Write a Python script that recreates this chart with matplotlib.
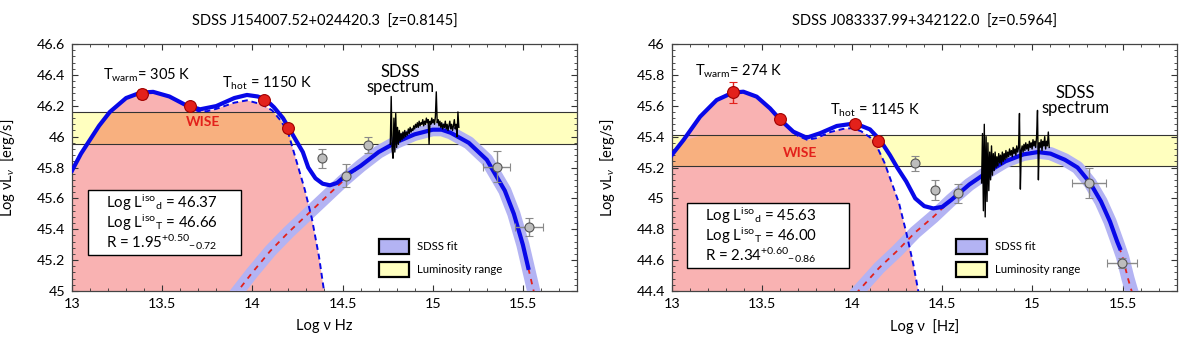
import numpy as np
import matplotlib
matplotlib.use("Agg")
import matplotlib.pyplot as plt
from matplotlib.patches import Rectangle
from matplotlib.ticker import MultipleLocator, FuncFormatter

plt.rcParams['font.family'] = ['Lato', 'DejaVu Sans']
plt.rcParams['mathtext.fontset'] = 'custom'
plt.rcParams['mathtext.rm'] = 'Lato'
plt.rcParams['mathtext.it'] = 'Lato:italic'
plt.rcParams['mathtext.bf'] = 'Lato:bold'

# ---------------- left panel: SDSS J154007.52+024420.3 ----------------
l_title = "SDSS J154007.52+024420.3  [z=0.8145]"
l_xlabel = "Log ν Hz"
l_ylim = (45.0, 46.6)
l_band = (45.955, 46.16)

l_dust_x = [13.00, 13.05, 13.10, 13.15, 13.21, 13.30, 13.38, 13.45, 13.54, 13.63, 13.70,
            13.75, 13.80, 13.90, 13.97, 14.05, 14.11, 14.16, 14.20, 14.25, 14.29, 14.33,
            14.37, 14.40]
l_dust_y = [45.78, 45.89, 45.98, 46.07, 46.16, 46.25, 46.285, 46.29, 46.26, 46.20, 46.165,
            46.165, 46.18, 46.22, 46.235, 46.21, 46.17, 46.10, 46.02, 45.82, 45.66, 45.47,
            45.22, 44.98]

l_tot_x = [13.00, 13.05, 13.10, 13.15, 13.21, 13.30, 13.38, 13.45, 13.54, 13.63, 13.71,
           13.80, 13.90, 13.97, 14.03, 14.075, 14.12, 14.17, 14.24, 14.28, 14.31, 14.35,
           14.39, 14.43, 14.47, 14.52, 14.60, 14.70, 14.80, 14.90, 15.00, 15.05, 15.10,
           15.20, 15.30, 15.40, 15.45, 15.50, 15.53]
l_tot_y = [45.78, 45.89, 45.98, 46.07, 46.16, 46.25, 46.285, 46.29, 46.26, 46.205, 46.177,
           46.198, 46.25, 46.27, 46.26, 46.24, 46.19, 46.12, 45.98, 45.90, 45.80, 45.73,
           45.695, 45.685, 45.70, 45.75, 45.81, 45.90, 45.965, 46.015, 46.045, 46.045, 46.025,
           45.96, 45.85, 45.65, 45.50, 45.30, 45.15]

l_disk_x = [13.90, 14.00, 14.10, 14.20, 14.30, 14.40, 14.50, 14.60, 14.70, 14.80, 14.90,
            15.00, 15.05, 15.10, 15.20, 15.30, 15.40, 15.45, 15.50, 15.55, 15.58]
l_disk_y = [44.97, 45.12, 45.26, 45.38, 45.49, 45.60, 45.71, 45.81, 45.90, 45.965, 46.015,
            46.045, 46.045, 46.025, 45.96, 45.85, 45.65, 45.50, 45.30, 45.05, 44.90]

l_wise_x = [13.39, 13.652, 14.066, 14.197]
l_wise_y = [46.276, 46.198, 46.235, 46.054]
l_wise_err = [0.03, 0.0, 0.0, 0.0]

l_phot_x = [14.389, 14.518, 14.643, 15.355, 15.534]
l_phot_y = [45.86, 45.747, 45.946, 45.805, 45.415]
l_phot_xerr = [0.0, 0.0, 0.0, 0.075, 0.078]
l_phot_yerr = [0.06, 0.075, 0.05, 0.10, 0.06]

l_spec_x0, l_spec_dx = 14.765, 0.005
l_spec_y = [45.95, 46.26, 45.92, 45.86, 46.12, 45.90, 46.15, 45.93, 46.06, 45.95,
            46.04, 45.97, 46.02, 45.98, 46.03, 45.99, 46.04, 46.00, 46.03, 46.01,
            46.05, 46.02, 46.06, 46.03, 46.05, 46.04, 46.07, 46.05, 46.08, 46.06,
            46.09, 46.06, 46.10, 46.07, 46.09, 46.08, 46.11, 46.07, 46.10, 46.08,
            46.12, 46.09, 46.11, 45.95, 46.10, 46.08, 46.12, 46.09, 46.11, 46.08,
            46.13, 46.29, 46.09, 46.11, 46.07, 46.10, 46.06, 46.09, 46.05, 46.08,
            46.06, 46.10, 46.05, 46.08, 46.04, 46.07, 46.10, 46.05, 46.08, 46.04,
            46.07, 46.11, 46.05, 46.08, 46.00, 46.16, 46.06]

l_box_lines = [r"Log L$^{\mathrm{iso}}$$_{\mathrm{d}}$ = 46.37",
               r"Log L$^{\mathrm{iso}}$$_{\mathrm{T}}$ = 46.66",
               r"R = 1.95$^{+0.50}$$_{-0.72}$"]
l_twarm = r"T$_{\mathrm{warm}}$= 305 K"
l_thot = r"T$_{\mathrm{hot}}$ = 1150 K"

# ---------------- right panel: SDSS J083337.99+342122.0 ----------------
r_title = "SDSS J083337.99+342122.0  [z=0.5964]"
r_xlabel = "Log ν  [Hz]"
r_ylim = (44.4, 46.0)
r_band = (45.21, 45.41)

r_dust_x = [13.00, 13.065, 13.157, 13.249, 13.338, 13.397, 13.471, 13.545, 13.60, 13.67,
            13.70, 13.75, 13.80, 13.88, 13.95, 14.00, 14.05, 14.10, 14.14, 14.18, 14.22,
            14.26, 14.30, 14.34, 14.37]
r_dust_y = [45.281, 45.378, 45.529, 45.637, 45.685, 45.691, 45.659, 45.583, 45.512, 45.43,
            45.405, 45.38, 45.39, 45.43, 45.45, 45.455, 45.435, 45.395, 45.33, 45.23, 45.10,
            44.97, 44.78, 44.57, 44.38]

r_tot_x = [13.00, 13.065, 13.157, 13.249, 13.338, 13.397, 13.471, 13.545, 13.60, 13.674,
           13.748, 13.822, 13.915, 14.016, 14.099, 14.155, 14.21, 14.25, 14.30, 14.35,
           14.40, 14.45, 14.50, 14.55, 14.59, 14.65, 14.75, 14.85, 14.95, 15.03, 15.10,
           15.18, 15.25, 15.32, 15.38, 15.43, 15.47, 15.485]
r_tot_y = [45.281, 45.378, 45.529, 45.637, 45.685, 45.691, 45.659, 45.583, 45.512, 45.432,
           45.393, 45.422, 45.469, 45.486, 45.447, 45.378, 45.28, 45.20, 45.11, 45.00,
           44.95, 44.935, 44.945, 44.99, 45.03, 45.09, 45.17, 45.24, 45.285, 45.30, 45.29,
           45.25, 45.20, 45.10, 44.98, 44.85, 44.72, 44.677]

r_disk_x = [13.98, 14.05, 14.15, 14.25, 14.35, 14.45, 14.55, 14.65, 14.75, 14.85, 14.95,
            15.03, 15.10, 15.18, 15.25, 15.32, 15.38, 15.43, 15.47, 15.50, 15.53, 15.56]
r_disk_y = [44.33, 44.42, 44.55, 44.66, 44.78, 44.88, 44.99, 45.09, 45.17, 45.24, 45.285,
            45.30, 45.29, 45.25, 45.20, 45.10, 44.98, 44.85, 44.72, 44.62, 44.48, 44.36]

r_wise_x = [13.338, 13.600, 14.018, 14.145]
r_wise_y = [45.687, 45.512, 45.482, 45.372]
r_wise_err = [0.067, 0.0, 0.0, 0.0]

r_phot_x = [14.349, 14.46, 14.589, 15.315, 15.497]
r_phot_y = [45.227, 45.054, 45.033, 45.098, 44.582]
r_phot_xerr = [0.0, 0.0, 0.0, 0.094, 0.083]
r_phot_yerr = [0.05, 0.065, 0.06, 0.097, 0.03]

r_spec_x0, r_spec_dx = 14.718, 0.005
r_spec_y = [45.10, 45.42, 44.92, 45.48, 44.88, 45.40, 44.98, 45.36, 45.05, 45.30,
            45.12, 45.34, 45.15, 45.29, 45.18, 45.30, 45.20, 45.27, 45.21, 45.29,
            45.23, 45.28, 45.22, 45.30, 45.24, 45.29, 45.25, 45.31, 45.26, 45.30,
            45.27, 45.32, 45.28, 45.31, 45.27, 45.33, 45.29, 45.32, 45.28, 45.34,
            45.30, 45.33, 45.55, 45.06, 45.31, 45.34, 45.30, 45.35, 45.31, 45.36,
            45.32, 45.35, 45.31, 45.37, 45.33, 45.36, 45.32, 45.38, 45.34, 45.37,
            45.33, 45.40, 45.57, 45.12, 45.36, 45.33, 45.38, 45.31, 45.37, 45.34,
            45.40, 45.32, 45.37, 45.34, 45.43, 45.33]

r_box_lines = [r"Log L$^{\mathrm{iso}}$$_{\mathrm{d}}$ = 45.63",
               r"Log L$^{\mathrm{iso}}$$_{\mathrm{T}}$ = 46.00",
               r"R = 2.34$^{+0.60}$$_{-0.86}$"]
r_twarm = r"T$_{\mathrm{warm}}$= 274 K"
r_thot = r"T$_{\mathrm{hot}}$ = 1145 K"

BLUE = '#0808e8'
LAV = '#b3b3f3'
PINK = '#f9b2b2'
ORANGE = '#f8b07f'
YELLOW = '#ffffbf'
RED = '#e3211b'


def panel(ax, title, xlabel, ylim, band, dust_x, dust_y, tot_x, tot_y, disk_x, disk_y,
          wise_x, wise_y, wise_err, phot_x, phot_y, phot_xerr, phot_yerr,
          spec_x0, spec_dx, spec_y, box_lines, twarm, thot, pos):
    dust_x = np.array(dust_x)
    dust_y = np.array(dust_y)
    lo, hi = band

    # luminosity range and dust emission
    ax.axhspan(lo, hi, color=YELLOW, zorder=0, lw=0)
    ax.fill_between(dust_x, dust_y, ylim[0] - 1, color=PINK, lw=0, zorder=1)
    ax.fill_between(dust_x, lo, np.minimum(dust_y, hi), where=dust_y > lo,
                    interpolate=True, color=ORANGE, lw=0, zorder=1.5)
    ax.axhline(lo, color='#333333', lw=0.8, zorder=2)
    ax.axhline(hi, color='#333333', lw=0.8, zorder=2)

    # accretion disk fit
    ax.plot(disk_x, disk_y, color=LAV, lw=9.5, solid_capstyle='butt', zorder=3)
    ax.plot(disk_x, disk_y, color=RED, lw=1.3, ls=(0, (3, 3)), zorder=4)
    ax.plot(dust_x, dust_y, color=BLUE, lw=1.4, ls=(0, (3, 2)), zorder=4)
    ax.plot(tot_x, tot_y, color=BLUE, lw=3, zorder=5)

    spec_x = spec_x0 + spec_dx * np.arange(len(spec_y))
    ax.plot(spec_x, spec_y, color='black', lw=1.0, zorder=6)

    ax.errorbar(phot_x, phot_y, xerr=phot_xerr, yerr=phot_yerr, fmt='o', ms=6.5,
                mfc='#bdbdbd', mec='#555555', mew=0.8, ecolor='#8a8a8a', elinewidth=1,
                capsize=3, zorder=7)
    ax.errorbar(wise_x, wise_y, yerr=wise_err, fmt='o', ms=8.5, mfc=RED, mec='#a00000',
                mew=0.8, ecolor=RED, elinewidth=1, capsize=3, zorder=8)

    # annotations
    ax.text(pos['twarm'][0], pos['twarm'][1], twarm, fontsize=10.5, va='center', zorder=9)
    ax.text(pos['thot'][0], pos['thot'][1], thot, fontsize=10.5, va='center', zorder=9)
    ax.text(pos['wise'][0], pos['wise'][1], "WISE", fontsize=10, color=RED,
            fontweight='bold', ha='center', va='center', zorder=9)
    ax.text(pos['sdss'][0], pos['sdss'][1], "SDSS\nspectrum", fontsize=12, ha='center',
            va='center', linespacing=0.95, zorder=9)

    bx0, by0, bx1, by1 = pos['box']
    ax.add_patch(Rectangle((bx0, by0), bx1 - bx0, by1 - by0, fc='white', ec='black',
                           lw=1, zorder=9))
    for txt, yy in zip(box_lines, pos['box_y']):
        ax.text(pos['box_tx'], yy, txt, fontsize=10.8, va='center', zorder=10)

    # legend
    lx = pos['leg_x']
    ax.add_patch(Rectangle((lx, 0.149), 0.061, 0.062, transform=ax.transAxes, fc=LAV,
                           ec='black', lw=1.6, zorder=9))
    ax.add_patch(Rectangle((lx, 0.058), 0.061, 0.058, transform=ax.transAxes, fc=YELLOW,
                           ec='black', lw=1.6, zorder=9))
    ax.text(lx + 0.077, 0.18, "SDSS fit", transform=ax.transAxes, fontsize=8.2,
            va='center', zorder=9)
    ax.text(lx + 0.077, 0.087, "Luminosity range", transform=ax.transAxes, fontsize=8.2,
            va='center', zorder=9)

    ax.set_xlim(13, 15.8)
    ax.set_ylim(*ylim)
    ax.xaxis.set_major_locator(MultipleLocator(0.5))
    ax.xaxis.set_minor_locator(MultipleLocator(0.1))
    ax.yaxis.set_major_locator(MultipleLocator(0.2))
    ax.yaxis.set_minor_locator(MultipleLocator(0.04))
    fmt = FuncFormatter(lambda v, p: f"{round(v, 2):g}")
    ax.xaxis.set_major_formatter(fmt)
    ax.yaxis.set_major_formatter(fmt)
    ax.tick_params(which='both', direction='in', top=True, right=True, labelsize=10.3,
                   color='#333333')
    ax.tick_params(which='major', length=4, pad=5)
    ax.tick_params(which='minor', length=2)
    for s in ax.spines.values():
        s.set_color('#444444')
        s.set_linewidth(0.9)

    ax.set_xlabel(xlabel, fontsize=10.5)
    ax.xaxis.set_label_coords(0.5, -0.115)
    ax.set_ylabel(r"Log νL$_{ν}$  [erg/s]", fontsize=10.5)
    ax.yaxis.set_label_coords(-0.108, 0.5)
    ax.text(0.5, 1.09, title, transform=ax.transAxes, ha='center', va='center',
            fontsize=10.5)


fig = plt.figure(figsize=(12, 3.38), dpi=100)
ax1 = fig.add_axes([0.06, 0.139, 0.4208, 0.7308])
ax2 = fig.add_axes([0.5598, 0.139, 0.4208, 0.7308])

panel(ax1, l_title, l_xlabel, l_ylim, l_band, l_dust_x, l_dust_y, l_tot_x, l_tot_y,
      l_disk_x, l_disk_y, l_wise_x, l_wise_y, l_wise_err, l_phot_x, l_phot_y,
      l_phot_xerr, l_phot_yerr, l_spec_x0, l_spec_dx, l_spec_y, l_box_lines,
      l_twarm, l_thot,
      dict(twarm=(13.17, 46.40), thot=(13.83, 46.345), wise=(13.725, 46.097),
           sdss=(14.82, 46.37), box=(13.087, 45.233, 13.936, 45.655), box_tx=13.19,
           box_y=[45.569, 45.444, 45.319], leg_x=0.607))

panel(ax2, r_title, r_xlabel, r_ylim, r_band, r_dust_x, r_dust_y, r_tot_x, r_tot_y,
      r_disk_x, r_disk_y, r_wise_x, r_wise_y, r_wise_err, r_phot_x, r_phot_y,
      r_phot_xerr, r_phot_yerr, r_spec_x0, r_spec_dx, r_spec_y, r_box_lines,
      r_twarm, r_thot,
      dict(twarm=(13.13, 45.82), thot=(13.88, 45.573), wise=(13.711, 45.296),
           sdss=(15.24, 45.632), box=(13.083, 44.551, 13.985, 44.968), box_tx=13.185,
           box_y=[44.885, 44.76, 44.635], leg_x=0.563))

fig.savefig("out.png", dpi=100)
